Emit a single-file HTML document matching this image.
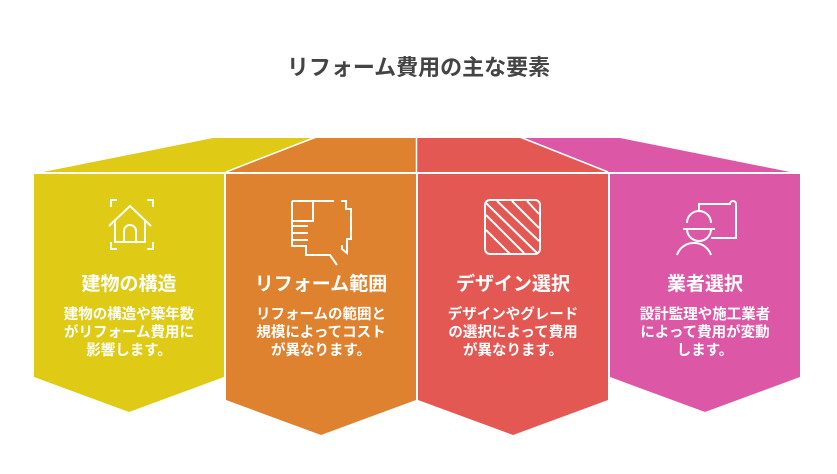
<!DOCTYPE html>
<html><head><meta charset="utf-8"><style>
body{margin:0;width:837px;height:474px;background:#fff;overflow:hidden;font-family:"Liberation Sans","Noto Sans CJK JP",sans-serif;position:relative}
.t{position:absolute;width:190px;text-align:center;color:#fff;font-weight:bold}
.h{font-size:19px;top:269px}
.b{font-size:14.5px;line-height:18px;top:306px}
</style></head><body>
<div style="position:absolute;top:50px;width:837px;text-align:center;font-size:22px;font-weight:bold;color:#444">リフォーム費用の主な要素</div>
<svg width="837" height="474" style="position:absolute;left:0;top:0">
<polygon points="43,172 213,138 316,138 226,172" fill="#dfcb16"/>
<polygon points="316,138 416,138 416,172 226,172" fill="#de8230"/>
<polygon points="417,138 520,138 608,172 417,172" fill="#e35852"/>
<polygon points="520,138 620,138 790,172 608,172" fill="#dc57a6"/>
<g stroke="#fff" stroke-width="1.5"><line x1="316" y1="137" x2="226" y2="172"/><line x1="520" y1="137" x2="608" y2="172"/><line x1="416.5" y1="137" x2="416.5" y2="172"/></g>
<polygon points="34,174 224,174 224,377 129,412 34,377" fill="#dfcb16"/>
<polygon points="226,174 416,174 416,400 321,435 226,400" fill="#de8230"/>
<polygon points="418,174 608,174 608,400 513,435 418,400" fill="#e35852"/>
<polygon points="610,174 800,174 800,377 705,412 610,377" fill="#dc57a6"/>
<g fill="none" stroke="#fff" stroke-width="2">
<path d="M111,207v-7h6M147,200h6v7M111,242v7h6M147,249h6v-7"/>
<path d="M109,226l21,-20l21,20M115,221v21h30v-21M124,242v-11a6,6 0 0 1 12,0v11"/>
<path d="M292,201h42M341,201h5v8h5v30h-4v14l-5,-4v-4M292,201v45h14v9h24l7,10M313,201v20h-20M292,226h16M292,233h16M292,240h16"/>
<rect x="485" y="200" width="55" height="54" rx="5"/>
<path d="M486,215l38,38M486,230l24,24M486,203l52,51M497,201l42,40M512,201l27,27M527,201l12,13"/>
<path d="M687,223a12,12 0 0 1 24,0M683,229h32M687,229a12,12 0 0 0 24,0M677,255a18,18 0 0 1 34,0M698,204h32a3,3 0 0 1 6,0v34h-6M711,238h25M699,210v-6"/>
</g>
</svg>
<div class="t h" style="left:34px">建物の構造</div>
<div class="t b" style="left:34px">建物の構造や築年数<br>がリフォーム費用に<br>影響します。</div>
<div class="t h" style="left:226px">リフォーム範囲</div>
<div class="t b" style="left:226px">リフォームの範囲と<br>規模によってコスト<br>が異なります。</div>
<div class="t h" style="left:418px">デザイン選択</div>
<div class="t b" style="left:418px">デザインやグレード<br>の選択によって費用<br>が異なります。</div>
<div class="t h" style="left:610px">業者選択</div>
<div class="t b" style="left:610px">設計監理や施工業者<br>によって費用が変動<br>します。</div>
</body></html>
